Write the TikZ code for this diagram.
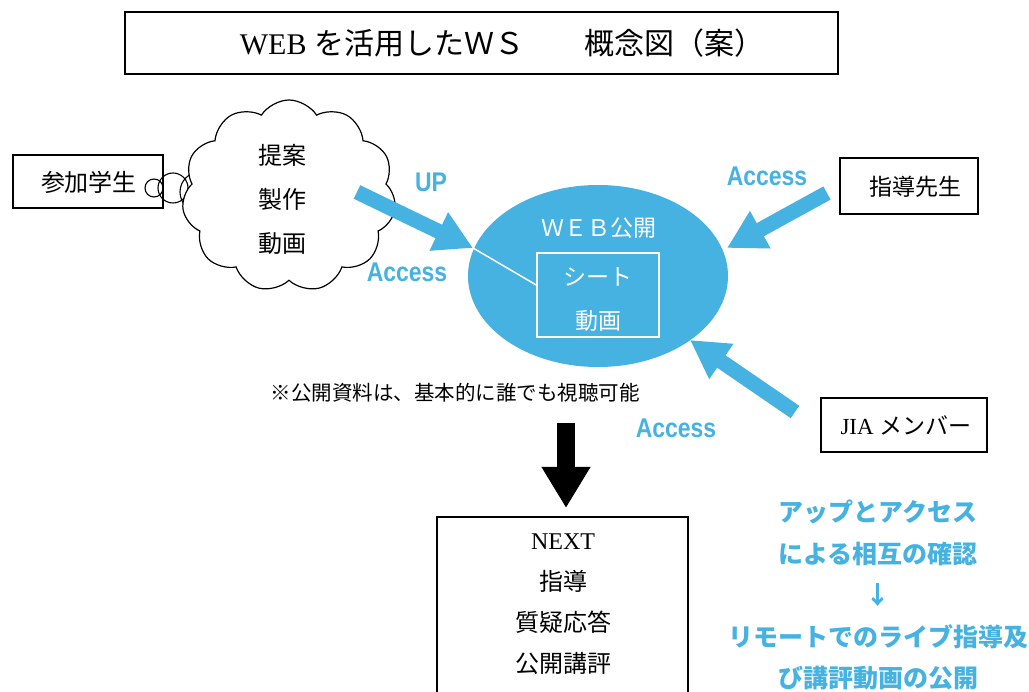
\documentclass[tikz,border=0pt]{standalone}
\usepackage{fontspec}
\setmainfont{Liberation Serif}
\newfontfamily\jp{Noto Sans CJK JP}
\newfontfamily\acc{Liberation Sans}[FakeStretch=0.85]
\usetikzlibrary{shapes.geometric,shapes.symbols,arrows.meta}
\definecolor{sky}{RGB}{70,178,226}
\tikzset{
  box/.style={draw, line width=1.4pt, inner sep=0pt},
  bluearrow/.style={draw=sky, line width=15pt, -{Triangle[length=38pt,width=40pt]}},
  acclabel/.style={text=sky, font=\acc\bfseries\fontsize{27}{27}\selectfont},
  jtext/.style={font=\jp\fontsize{#1}{#1}\selectfont},
  ring/.style={draw, line width=1.1pt, circle, inner sep=0pt}
}
\begin{document}
\begin{tikzpicture}[x=1pt,y=-1pt]
\useasboundingbox (0,0) rectangle (1029,692);
\fill[white] (0,0) rectangle (1029,692);

% title
\node[box, minimum width=713pt, minimum height=62pt] (title) at (481.5,43) {};
\node[font=\fontsize{30}{30}\selectfont] (titlelbl) at (502,43)
  {WEB {\jp を活用したＷＳ　　概念図（案）}};

% student box, rings, cloud
\node[box, minimum width=150pt, minimum height=53pt] (student) at (88,181.5) {};
\node[jtext=24] (studentlbl) at (89,182) {参加学生};
\node[ring, minimum size=18pt] (r1) at (154,188) {};
\node[ring, minimum size=30pt] (r2) at (173,188) {};
\node[ring, minimum size=40pt] (r3) at (200,192) {};
\node[cloud, cloud puffs=11, cloud puff arc=115, aspect=1.1, draw, fill=white,
      line width=1.2pt, minimum width=214pt, minimum height=192pt, inner sep=0pt]
      (cloud) at (289,196) {};
\node[align=center, font=\jp\fontsize{24}{44}\selectfont] (cloudlbl) at (282,199) {提案\\製作\\動画};

% web ellipse
\node[ellipse, fill=sky, minimum width=260pt, minimum height=182pt, inner sep=0pt] (web) at (598,276) {};
\node[text=white, jtext=23] (weblbl) at (599,228) {ＷＥＢ公開};
\node[draw=white, line width=1.5pt, minimum width=122pt, minimum height=84pt, inner sep=0pt] (inner) at (598,295) {};
\node[text=white, align=center, font=\jp\fontsize{23}{44}\selectfont] (innerlbl) at (598,300) {シート\\動画};

% other boxes
\node[box, minimum width=138pt, minimum height=56pt] (teacher) at (909,186) {};
\node[jtext=23] (teacherlbl) at (915,187) {指導先生};
\node[box, minimum width=166pt, minimum height=54pt] (jia) at (904,425) {};
\node[font=\fontsize{23}{23}\selectfont] (jialbl) at (906,425) {JIA {\jp メンバー}};

% blue arrows
\coordinate (uptail) at (357,192);
\coordinate (uptip) at (473,248);
\coordinate (ttail) at (827,193);
\coordinate (ttip) at (727,248);
\coordinate (jtail) at (795,412);
\coordinate (jtip) at (690,340);
\draw[bluearrow] (uptail) -- (uptip);
\draw[bluearrow] (ttail) -- (ttip);
\draw[bluearrow] (jtail) -- (jtip);
\draw[white, line width=1.5pt] (uptip) -- ([yshift=10pt]inner.west);

\node[acclabel] (uplbl) at (431,182) {UP};
\node[acclabel] (acc1) at (407,272) {Access};
\node[acclabel] (acc2) at (767,176) {Access};
\node[acclabel] (acc3) at (676,428) {Access};

% note
\node[jtext=20.5] (note) at (455,393) {※公開資料は、基本的に誰でも視聴可能};

% black arrow and NEXT box
\coordinate (dtop) at (566,423);
\coordinate (dtip) at (566,508);
\draw[line width=18pt, -{Triangle[length=41pt,width=46pt]}] (dtop) -- (dtip);
\node[box, minimum width=251pt, minimum height=190pt] (nextbox) at (562.5,612) {};
\node[align=center, font=\fontsize{24}{41}\selectfont] (nextlbl) at (563,604)
  {NEXT\\{\jp 指導}\\{\jp 質疑応答}\\{\jp 公開講評}};

% right blue text
\node[text=sky, align=center, font=\jp\bfseries\fontsize{25}{41.5}\selectfont] (summary) at (878,595)
  {アップとアクセス\\による相互の確認\\↓\\リモートでのライブ指導及\\び講評動画の公開};
\end{tikzpicture}
\end{document}
